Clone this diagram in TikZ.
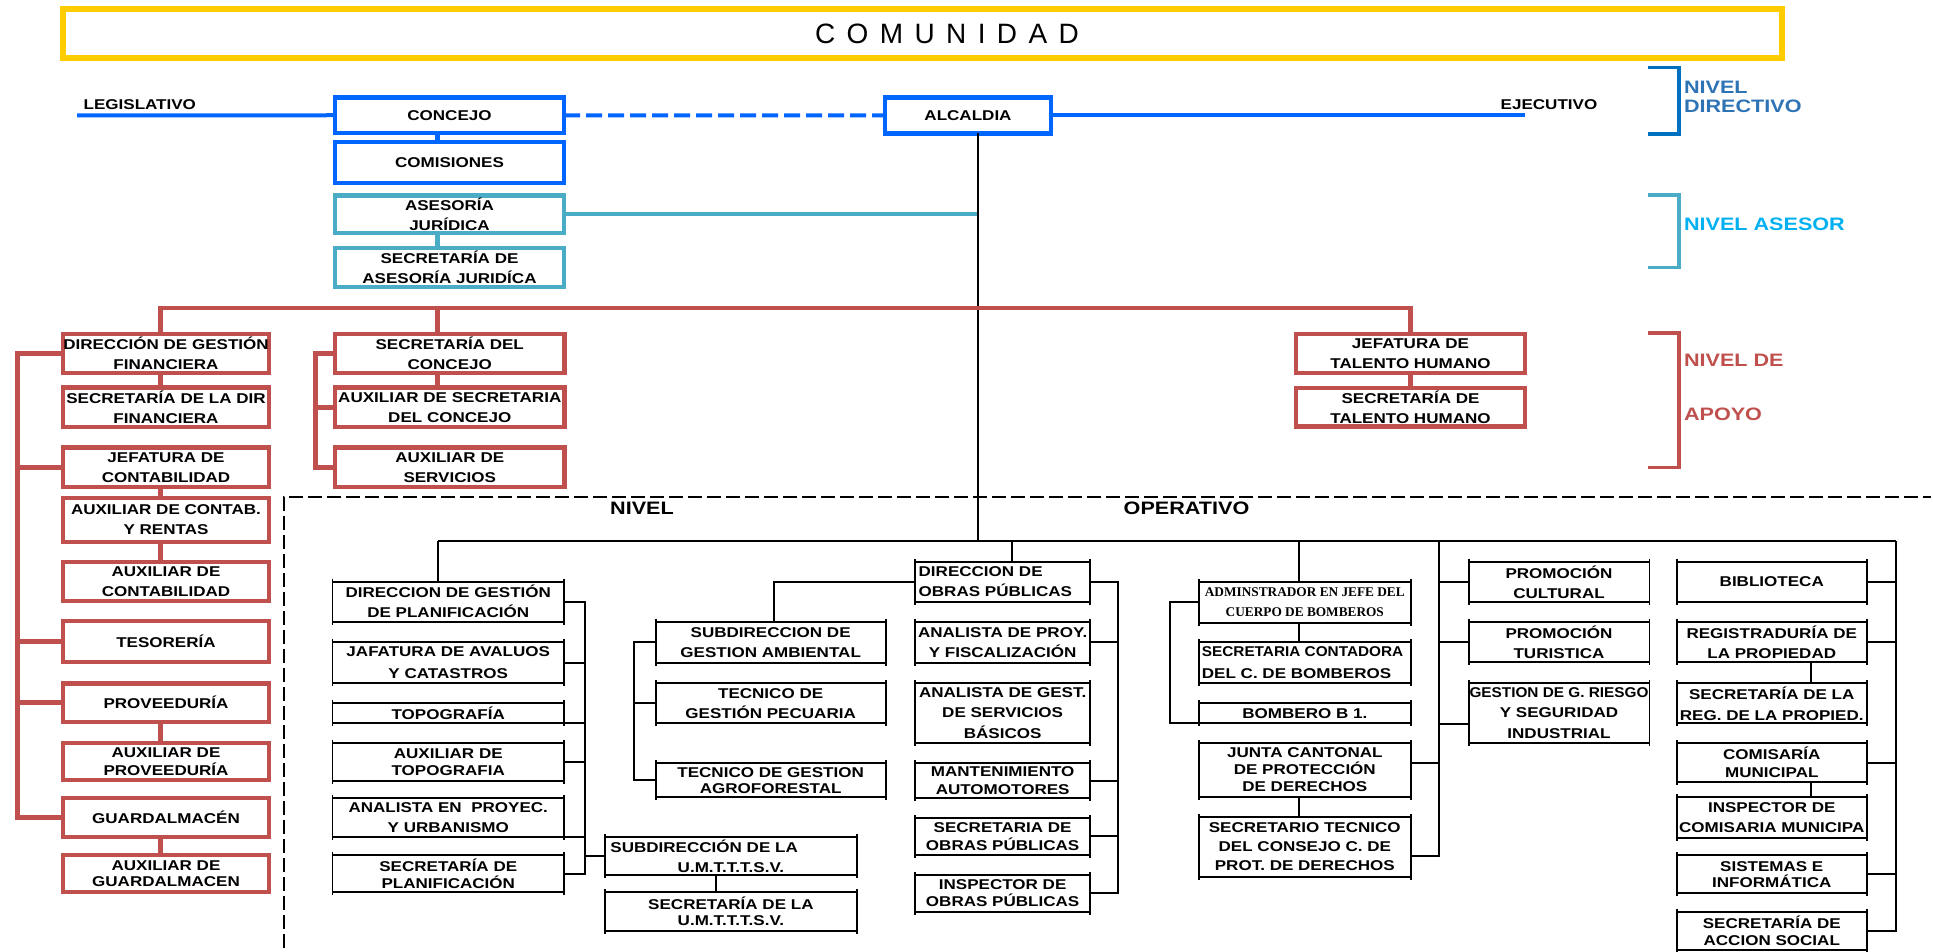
\documentclass[tikz,border=0pt]{standalone}
\usepackage{fontspec}
\usepackage{graphicx}
\newfontfamily\bxf{Liberation Sans}[FakeStretch=1.2]
\newfontfamily\plainsans{Liberation Sans}
\newfontfamily\serf{Liberation Serif}
\definecolor{cyellow}{RGB}{255,204,0}
\definecolor{cblue}{RGB}{0,102,255}
\definecolor{cdir}{RGB}{0,112,192}
\definecolor{cdirtxt}{RGB}{46,116,181}
\definecolor{cteal}{RGB}{75,172,198}
\definecolor{caset}{RGB}{0,176,240}
\definecolor{cred}{RGB}{192,80,77}
\tikzset{
  every node/.style={inner sep=0pt, outer sep=0pt},
  lsp/.style={font=\bxf\bfseries\fontsize{14.2}{#1}\selectfont},
  lsp/.default=20,
  obox/.style={align=center, lsp},
  bluebox/.style={obox, draw=cblue, line width=4.5},
  tealbox/.style={obox, draw=cteal, line width=4.2},
  redbox/.style={obox, draw=cred, line width=4.2},
  blkbox/.style={obox, draw=black, line width=1.8},
  sz/.style 2 args={minimum width=#1, minimum height=#2},
  lblf/.style={font=\bxf\bfseries\fontsize{14.2}{17}\selectfont},
  biglbl/.style={font=\bxf\bfseries\fontsize{18}{#1}\selectfont},
  biglbl/.default=20,
  bline/.style={draw=cblue, line width=4},
  tline/.style={draw=cteal, line width=4.2},
  rline/.style={draw=cred, line width=4.5},
  kline/.style={draw=black, line width=2},
  brk/.style={line width=3.6},
}
\begin{document}
\begin{tikzpicture}[x=1pt,y=-1pt]
\useasboundingbox (0,0) rectangle (1933,952);

% ---------- top frame
\node[draw=cyellow, line width=5.5, minimum width=1719, minimum height=49] (comunidad) at (922.5,33.5)
  {\plainsans\fontsize{28}{30}\selectfont\hspace*{49pt}C\kern11.4pt O\kern11.4pt M\kern11.4pt U\kern11.4pt N\kern11.4pt I\kern11.4pt D\kern11.4pt A\kern11.4pt D};

% ---------- helper coordinates
\coordinate (cx) at (437.5,0);
\coordinate (spine) at (978,0);
\coordinate (rx1) at (160.7,0);
\coordinate (rb) at (0,308);
\coordinate (lb) at (17.8,0);
\coordinate (cb) at (315.5,0);
\coordinate (op) at (0,541);
\coordinate (pbus) at (585,0);
\coordinate (ux) at (716.4,0);
\coordinate (ax) at (774.2,0);
\coordinate (abus) at (633.9,0);
\coordinate (ox) at (1011.6,0);
\coordinate (obus) at (1117.6,0);
\coordinate (bx) at (1298.8,0);
\coordinate (bbus) at (1170,0);
\coordinate (pb) at (1438.7,0);
\coordinate (rx) at (1810.7,0);
\coordinate (rbus) at (1895.6,0);
\coordinate (legL) at (77,115.3);
\coordinate (ejeR) at (1525,115.5);

% ---------- directive level
\node[bluebox, sz={229}{35.5}] (concejo) at (449.5,115.25) {CONCEJO};
\node[bluebox, sz={229}{41}] (comisiones) at (449.5,162.5) {COMISIONES};
\node[bluebox, sz={166}{36}] (alcaldia) at (968,115.5) {ALCALDIA};
\node[lblf] (legis) at (139.8,104.3) {LEGISLATIVO};
\node[lblf] (ejec) at (1549,104.3) {EJECUTIVO};

% ---------- advisory level
\node[tealbox, sz={229}{37.5}] (asesoria) at (449.5,214.25) {ASESORÍA\\JURÍDICA};
\node[tealbox, sz={229}{39}] (secaseso) at (449.5,267.5) {SECRETARÍA DE\\ASESORÍA JURIDÍCA};

% ---------- support level
\node[redbox, sz={206}{39.3}] (dirfin) at (166,353.35) {DIRECCIÓN DE GESTIÓN\\FINANCIERA};
\node[redbox, sz={206}{39.5}] (secdir) at (166,407.25) {SECRETARÍA DE LA DIR\\FINANCIERA};
\node[redbox, sz={206}{39.5}] (jefcont) at (166,467.25) {JEFATURA DE\\CONTABILIDAD};
\node[redbox, sz={206}{44}] (auxrent) at (166,520) {AUXILIAR DE CONTAB.\\Y RENTAS};
\node[redbox, sz={206}{39}] (auxcont) at (166,581.5) {AUXILIAR DE\\CONTABILIDAD};
\node[redbox, sz={206}{41}] (tesoreria) at (166,641.5) {TESORERÍA};
\node[redbox, sz={206}{38.2}] (proveeduria) at (166,702.6) {PROVEEDURÍA};
\node[redbox, sz={206}{37.3}, lsp=17.7] (auxprov) at (166,761.35) {AUXILIAR DE\\PROVEEDURÍA};
\node[redbox, sz={206}{38.7}] (guardalmacen) at (166,817.65) {GUARDALMACÉN};
\node[redbox, sz={206}{37}, lsp=16] (auxguard) at (166,873.8) {AUXILIAR DE\\GUARDALMACEN};

\node[redbox, sz={229.5}{39.3}] (secconcejo) at (449.75,353.35) {SECRETARÍA DEL\\CONCEJO};
\node[redbox, sz={229.5}{39.5}] (auxsecc) at (449.75,407.25) {AUXILIAR DE SECRETARIA\\DEL CONCEJO};
\node[redbox, sz={229.5}{39.5}] (auxserv) at (449.75,467.25) {AUXILIAR DE\\SERVICIOS};

\node[redbox, sz={229}{38.8}] (jeftal) at (1410.5,353.4) {JEFATURA DE\\TALENTO HUMANO};
\node[redbox, sz={229}{38.5}] (sectal) at (1410.5,407.25) {SECRETARÍA DE\\TALENTO HUMANO};

% ---------- operative level
\node[blkbox, sz={231.5}{40}] (dirplan) at (448.25,601.7) {DIRECCION DE GESTIÓN\\DE PLANIFICACIÓN};
\node[blkbox, sz={231.5}{41.6}, lsp=21.6] (jafatura) at (448.25,662.5) {JAFATURA DE AVALUOS\\Y CATASTROS};
\node[blkbox, sz={231.5}{20}] (topografia) at (448.25,713.3) {TOPOGRAFÍA};
\node[blkbox, sz={231.5}{37.4}, lsp=17.4] (auxtopo) at (448.25,762) {AUXILIAR DE\\TOPOGRAFIA};
\node[blkbox, sz={231.5}{38.4}, lsp=19.4] (analista) at (448.25,817.5) {ANALISTA EN\ \ PROYEC.\\Y URBANISMO};
\node[blkbox, sz={231.5}{37.3}, lsp=17.7] (secplan) at (448.25,873.65) {SECRETARÍA DE\\PLANIFICACIÓN};

\node[blkbox, sz={251.8}{38.3}] (subumt) at (730.9,855.85) {\makebox[241pt][l]{SUBDIRECCIÓN DE LA}\\U.M.T.T.T.S.V.};
\node[blkbox, sz={251.8}{38.7}, lsp=16] (secumt) at (730.9,911.65) {SECRETARÍA DE LA\\U.M.T.T.T.S.V.};

\node[blkbox, sz={229.9}{41}] (subamb) at (770.65,642.2) {SUBDIRECCION DE\\GESTION AMBIENTAL};
\node[blkbox, sz={229.9}{40}] (tecpec) at (770.65,703.3) {TECNICO DE\\GESTIÓN PECUARIA};
\node[blkbox, sz={229.9}{34}, lsp=16.3] (tecagro) at (770.65,780.3) {TECNICO DE GESTION\\AGROFORESTAL};

\node[blkbox, sz={174.9}{40}, lsp=19.3, align=left, text width=168] (dirobras) at (1002.65,581.7) {DIRECCION DE\\OBRAS PÚBLICAS};
\node[blkbox, sz={174.9}{41}] (anaproy) at (1002.65,642.2) {ANALISTA DE PROY.\\Y FISCALIZACIÓN};
\node[blkbox, sz={174.9}{60.6}, lsp=20.8] (anagest) at (1002.65,713) {ANALISTA DE GEST.\\DE SERVICIOS\\BÁSICOS};
\node[blkbox, sz={174.9}{35}, lsp=18.3] (mant) at (1002.65,780.8) {MANTENIMIENTO\\AUTOMOTORES};
\node[blkbox, sz={174.9}{37.3}, lsp=17.7] (secobras) at (1002.65,836.35) {SECRETARIA DE\\OBRAS PÚBLICAS};
\node[blkbox, sz={174.9}{36.7}, lsp=16.6] (inspobras) at (1002.65,893.35) {INSPECTOR DE\\OBRAS PÚBLICAS};

\node[blkbox, sz={211.8}{41}, font=\serf\bfseries\fontsize{13.3}{20}\selectfont] (admin) at (1304.8,602.2) {ADMINSTRADOR EN JEFE DEL\\CUERPO DE BOMBEROS};
\node[blkbox, sz={211.8}{41.6}, lsp=21.6, align=left, text width=205.8] (seccont) at (1304.8,662.5) {\scalebox{0.9}[1]{SECRETARIA CONTADORA}\\DEL C. DE BOMBEROS};
\node[blkbox, sz={211.8}{20}] (bombero) at (1304.8,713.3) {BOMBERO B 1.};
\node[blkbox, sz={211.8}{53.4}, lsp=17] (junta) at (1304.8,770) {JUNTA CANTONAL\\DE PROTECCIÓN\\DE DERECHOS};
\node[blkbox, sz={211.8}{60}, lsp=18.6] (sectec) at (1304.8,846.7) {SECRETARIO TECNICO\\DEL CONSEJO C. DE\\PROT. DE DERECHOS};

\node[blkbox, sz={180.8}{40.6}] (promcult) at (1559,582) {PROMOCIÓN\\CULTURAL};
\node[blkbox, sz={180.8}{40.6}] (promtur) at (1559,642) {PROMOCIÓN\\TURISTICA};
\node[blkbox, sz={180.8}{60.6}, lsp=20.8] (riesgo) at (1559,713) {\scalebox{0.9}[1]{GESTION DE G. RIESGO}\\Y SEGURIDAD\\INDUSTRIAL};

\node[blkbox, sz={189.7}{40.6}] (biblio) at (1771.75,582) {BIBLIOTECA};
\node[blkbox, sz={189.7}{40.6}] (registro) at (1771.75,642) {REGISTRADURÍA DE\\LA PROPIEDAD};
\node[blkbox, sz={189.7}{40}, lsp=21] (secreg) at (1771.75,703.3) {SECRETARÍA DE LA\\REG. DE LA PROPIED.};
\node[blkbox, sz={189.7}{38.4}, lsp=17.7] (comisaria) at (1771.75,762.5) {COMISARÍA\\MUNICIPAL};
\node[blkbox, sz={189.7}{41}] (inspcom) at (1771.75,817.8) {INSPECTOR DE\\COMISARIA MUNICIPA};
\node[blkbox, sz={189.7}{38.3}, lsp=16] (sistemas) at (1771.75,874.15) {SISTEMAS E\\INFORMÁTICA};
\node[blkbox, sz={189.7}{38.3}, lsp=17.6] (secaccion) at (1771.75,930.85) {SECRETARÍA DE\\ACCION SOCIAL};

% small overshoot ticks on black boxes
\foreach \n in {dirplan,jafatura,topografia,auxtopo,analista,secplan,subumt,secumt,subamb,tecpec,tecagro,dirobras,anaproy,anagest,mant,secobras,inspobras,admin,seccont,bombero,junta,sectec,promcult,promtur,riesgo,biblio,registro,secreg,comisaria,inspcom,sistemas,secaccion}
  \draw[line width=1.8] ([yshift=3pt]\n.north west) -- ([yshift=-3pt]\n.south west)
                        ([yshift=3pt]\n.north east) -- ([yshift=-3pt]\n.south east);

% ---------- level labels and brackets
\node[biglbl=19.4, anchor=west, align=left, text=cdirtxt] (nivdir) at (1684,97) {NIVEL\\DIRECTIVO};
\node[biglbl, anchor=west, text=caset] (nivase) at (1684,224) {NIVEL ASESOR};
\node[biglbl=54, anchor=west, align=left, text=cred] (nivapo) at (1684,387) {NIVEL DE\\APOYO};
\node[biglbl] (nivel) at (642,508.3) {NIVEL};
\node[biglbl] (operativo) at (1186.5,508) {OPERATIVO};

\draw[brk, draw=cdir] (1647.5,67.7) -- (1679,67.7) -- (1679,134) -- (1647.5,134);
\draw[brk, draw=cteal] (1647.5,195) -- (1679,195) -- (1679,267.3) -- (1647.5,267.3);
\draw[brk, draw=cred] (1647.5,332.7) -- (1679,332.7) -- (1679,467.3) -- (1647.5,467.3);

% dashed frame of operative level
\draw[line width=1.8, dash pattern=on 14pt off 5pt] (284,948) -- (284,497) -- (1931,497);

% ---------- connectors: blue
\draw[bline] (legL) -- (concejo.west);
\draw[bline, dash pattern=on 16pt off 6pt] (concejo.east) -- (alcaldia.west);
\draw[bline] (alcaldia.east) -- (ejeR);
\draw[bline, line width=4.5] (concejo.south -| cx) -- (comisiones.north -| cx);

% teal
\draw[tline] (asesoria.south -| cx) -- (secaseso.north -| cx);
\draw[tline] (asesoria.east) -- (asesoria.east -| spine);

% spine
\draw[kline] (alcaldia.south -| spine) -- (op -| spine);

% red
\draw[rline] (dirfin.north -| rx1) -- (rb -| rx1) -- (rb -| jeftal) -- (jeftal.north);
\draw[rline] (rb -| cx) -- (secconcejo.north -| cx);
\draw[rline] (dirfin.south -| rx1) -- (secdir.north -| rx1);
\draw[rline] (jefcont.south -| rx1) -- (auxrent.north -| rx1);
\draw[rline, line width=5.5] (auxrent.south -| rx1) -- (auxcont.north -| rx1);
\draw[rline] (proveeduria.south -| rx1) -- (auxprov.north -| rx1);
\draw[rline] (guardalmacen.south -| rx1) -- (auxguard.north -| rx1);
\draw[rline] (secconcejo.south -| cx) -- (auxsecc.north -| cx);
\draw[rline] (jeftal.south) -- (sectal.north);
\draw[rline, line width=5] (dirfin.west) -| (lb |- guardalmacen.west) -- (guardalmacen.west);
\foreach \n in {jefcont,tesoreria,proveeduria}
  \draw[rline] (\n.west) -- (\n.west -| lb);
\draw[rline] (secconcejo.west) -| (cb |- auxserv.west) -- (auxserv.west);
\draw[rline] (auxsecc.west) -- (auxsecc.west -| cb);

% black operative
\coordinate (sectecS) at ([yshift=-9pt]sectec.east);
\coordinate (juntaS) at ([yshift=7pt]junta.east);
\coordinate (riesgoS) at ([yshift=-11pt]riesgo.west);
\draw[kline] (op -| cx) -- (op -| rbus);
\draw[kline] (op -| cx) -- (dirplan.north -| cx);
\draw[kline] (op -| ox) -- (dirobras.north -| ox);
\draw[kline] (op -| bx) -- (admin.north -| bx);
\draw[kline] (op -| pb) -- (sectecS -| pb) -- (sectecS);
\draw[kline] (juntaS) -- (juntaS -| pb);
\draw[kline] (promcult.west) -- (promcult.west -| pb);
\draw[kline] (promtur.west) -- (promtur.west -| pb);
\draw[kline] (riesgoS) -- (riesgoS -| pb);
\draw[kline] (op -| rbus) -- (rbus |- secaccion.east) -- (secaccion.east);
\foreach \n in {biblio,registro,comisaria,sistemas}
  \draw[kline] (\n.east) -- (\n.east -| rbus);
\draw[kline] (registro.south -| rx) -- (secreg.north -| rx);
\draw[kline] (comisaria.south -| rx) -- (inspcom.north -| rx);

\draw[kline] (dirplan.east) -| (pbus |- secplan.east) -- (secplan.east);
\foreach \n in {jafatura,auxtopo}
  \draw[kline] (\n.east) -- (\n.east -| pbus);
\draw[kline] (topografia.south east) -- (topografia.south east -| pbus);
\draw[kline] (analista.south east) -- (analista.south east -| pbus);
\draw[kline] (pbus |- subumt.west) -- (subumt.west);
\draw[kline] (subumt.south -| ux) -- (secumt.north -| ux);

\draw[kline] (dirobras.west) -| (subamb.north -| ax);
\draw[kline] (subamb.west) -| (abus |- tecagro.west) -- (tecagro.west);
\draw[kline] (tecpec.west) -- (tecpec.west -| abus);

\draw[kline] (dirobras.east) -| (obus |- inspobras.east) -- (inspobras.east);
\foreach \n in {anaproy,mant,secobras}
  \draw[kline] (\n.east) -- (\n.east -| obus);

\draw[kline] (admin.south -| bx) -- (seccont.north -| bx);
\draw[kline] (admin.west) -| (bbus |- bombero.south west) -- (bombero.south west);
\draw[kline] (junta.south -| bx) -- (sectec.north -| bx);
\end{tikzpicture}
\end{document}
